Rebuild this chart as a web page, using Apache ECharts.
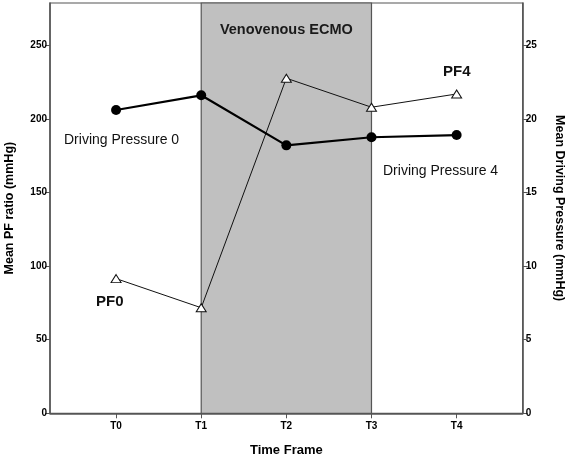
<!DOCTYPE html>
<html>
<head>
<meta charset="utf-8">
<script src="https://cdn.jsdelivr.net/npm/echarts@6/dist/echarts.min.js"></script>
<style>html,body{margin:0;padding:0;background:#fff}#c{width:567px;height:456px}</style>
</head>
<body>
<div id="c"></div>
<script>
var categories = ['T0', 'T1', 'T2', 'T3', 'T4'];
var pfRatio = [91.5, 71.7, 227.6, 207.9, 216.9];          // triangles, left axis
var drivingPressure = [20.6, 21.6, 18.2, 18.75, 18.9];   // filled circles, right axis
var leftTicks = [0, 50, 100, 150, 200, 250];
var rightTicks = [0, 5, 10, 15, 20, 25];
var ecmoStart = 1, ecmoEnd = 3;

var font = 'Liberation Sans, Arial, sans-serif';
var chart = echarts.init(document.getElementById('c'));
function pts(arr){ return arr.map(function(v,i){ return [i, v]; }); }
var axisCol = '#555';

chart.setOption({
  animation: false,
  backgroundColor: '#fff',
  grid: { left: 50, right: 44.3, top: 3, bottom: 42.7, outerBoundsMode: 'none', containLabel: false,
    show: true, borderColor: axisCol, borderWidth: 1.2, backgroundColor: 'transparent' },
  xAxis: {
    type: 'value', min: -0.776, max: 4.776,
    splitLine: { show: false },
    axisLine: { onZero: false, lineStyle: { color: axisCol, width: 1.5 } },
    axisTick: { customValues: [0,1,2,3,4], length: 5, lineStyle: { color: axisCol } },
    axisLabel: { customValues: [0,1,2,3,4], formatter: function(v){ return categories[Math.round(v)]; },
      color: '#000', fontFamily: font, fontWeight: 'bold', fontSize: 10, margin: 8 },
    name: 'Time Frame', nameLocation: 'middle', nameGap: 31,
    nameTextStyle: { color: '#000', fontFamily: font, fontWeight: 'bold', fontSize: 13 }
  },
  yAxis: [{
    type: 'value', min: 0, max: 278.7, position: 'left',
    splitLine: { show: false },
    axisLine: { show: true, onZero: false, lineStyle: { color: axisCol, width: 1.5 } },
    axisTick: { show: true, customValues: leftTicks, length: 5, lineStyle: { color: axisCol } },
    axisLabel: { customValues: leftTicks, color: '#000', fontFamily: font, fontWeight: 'bold', fontSize: 10, margin: 3 },
    name: 'Mean PF ratio (mmHg)', nameLocation: 'middle', nameRotate: 90, nameGap: 34,
    nameTextStyle: { color: '#000', fontFamily: font, fontWeight: 'bold', fontSize: 12.5 }
  }, {
    type: 'value', min: 0, max: 27.87, position: 'right',
    splitLine: { show: false },
    axisLine: { show: true, onZero: false, lineStyle: { color: axisCol, width: 1.5 } },
    axisTick: { show: true, customValues: rightTicks, length: 5, lineStyle: { color: axisCol } },
    axisLabel: { customValues: rightTicks, color: '#000', fontFamily: font, fontWeight: 'bold', fontSize: 10, margin: 3 },
    name: 'Mean Driving Pressure (mmHg)', nameLocation: 'middle', nameRotate: -90, nameGap: 30,
    nameTextStyle: { color: '#000', fontFamily: font, fontWeight: 'bold', fontSize: 12.5 }
  }],
  series: [{
    type: 'line', data: [], z: 1, silent: true,
    markArea: {
      silent: true,
      itemStyle: { color: '#c0c0c0', borderColor: '#555', borderWidth: 1.2 },
      data: [[{ xAxis: ecmoStart }, { xAxis: ecmoEnd }]],
      label: { show: true, position: 'insideTop', distance: 20, formatter: 'Venovenous ECMO',
        color: '#1a1a1a', fontFamily: font, fontWeight: 'bold', fontSize: 14.5 }
    }
  }, {
    name: 'PF', type: 'line', z: 3, yAxisIndex: 0, data: pts(pfRatio),
    symbol: 'triangle', symbolSize: [10, 8],
    lineStyle: { color: '#111', width: 1 },
    itemStyle: { color: '#fff', borderColor: '#111', borderWidth: 1 }
  }, {
    name: 'DP', type: 'line', z: 4, yAxisIndex: 1, data: pts(drivingPressure),
    symbol: 'circle', symbolSize: 10,
    lineStyle: { color: '#000', width: 2.2 },
    itemStyle: { color: '#000' }
  }],
  graphic: [
    { type: 'text', left: 64, top: 133, style: { text: 'Driving Pressure 0', fill: '#111', font: '14px ' + font } },
    { type: 'text', left: 383, top: 164, style: { text: 'Driving Pressure 4', fill: '#111', font: '14px ' + font } },
    { type: 'text', left: 96, top: 294, style: { text: 'PF0', fill: '#111', font: 'bold 15px ' + font } },
    { type: 'text', left: 443, top: 64, style: { text: 'PF4', fill: '#111', font: 'bold 15px ' + font } }
  ]
});
</script>
</body>
</html>
